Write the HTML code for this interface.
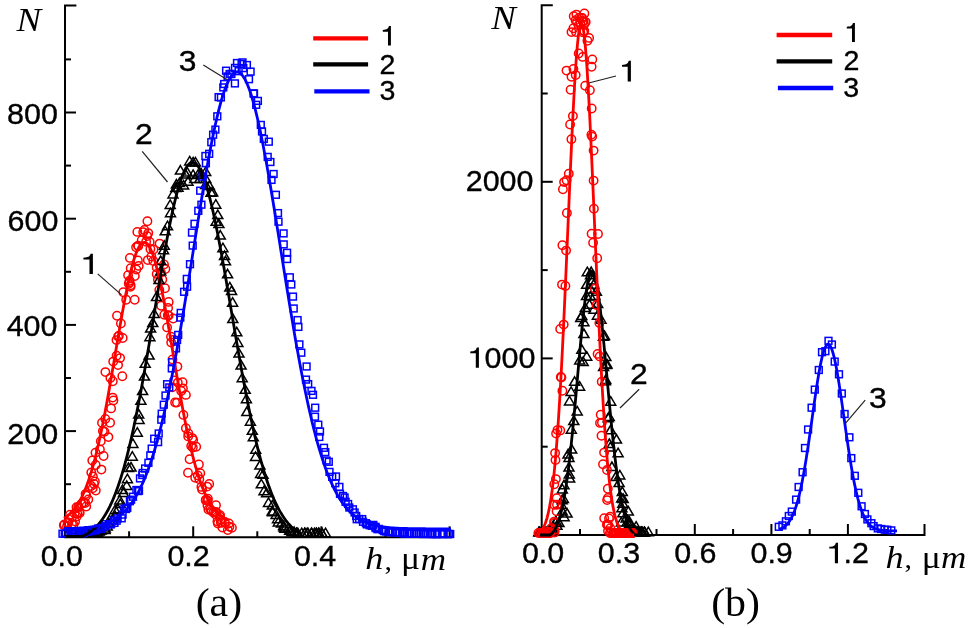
<!DOCTYPE html>
<html><head><meta charset="utf-8"><style>
html,body{margin:0;padding:0;background:#fff;}
svg{display:block;filter:blur(0.45px);}
</style></head><body>
<svg width="968" height="628" viewBox="0 0 968 628">
<g fill="none" stroke="#000" stroke-width="2"><path d="M76.4 5.5H65V537.3H452" /><path d="M65 484.2h6"/><path d="M65 431.1h11"/><path d="M65 378.0h6"/><path d="M65 324.9h11"/><path d="M65 271.8h6"/><path d="M65 218.7h11"/><path d="M65 165.6h6"/><path d="M65 112.5h11"/><path d="M65 59.4h6"/><path d="M129.1 537.3v-6"/><path d="M193.2 537.3v-11"/><path d="M257.3 537.3v-6"/><path d="M321.4 537.3v-11"/><path d="M385.5 537.3v-6"/><path d="M449.6 537.3v-11"/><path d="M552.8 5.3H541.7V535H924.5v-11"/><path d="M541.7 446.7h6"/><path d="M541.7 358.4h11"/><path d="M541.7 270.1h6"/><path d="M541.7 181.8h11"/><path d="M541.7 93.5h6"/><path d="M580.0 535v-6"/><path d="M618.3 535v-11"/><path d="M656.5 535v-6"/><path d="M694.8 535v-11"/><path d="M733.1 535v-6"/><path d="M771.4 535v-11"/><path d="M809.7 535v-6"/><path d="M847.9 535v-11"/><path d="M886.2 535v-6"/></g>
<g fill="none" stroke="#ff0000" stroke-width="1.5"><circle cx="67.0" cy="526.4" r="4.2"/><circle cx="63.8" cy="525.3" r="4.2"/><circle cx="64.4" cy="524.4" r="4.2"/><circle cx="73.5" cy="524.7" r="4.2"/><circle cx="67.6" cy="522.9" r="4.2"/><circle cx="72.0" cy="524.1" r="4.2"/><circle cx="68.4" cy="522.5" r="4.2"/><circle cx="75.1" cy="521.4" r="4.2"/><circle cx="72.0" cy="517.3" r="4.2"/><circle cx="70.0" cy="514.8" r="4.2"/><circle cx="74.7" cy="513.6" r="4.2"/><circle cx="77.4" cy="513.8" r="4.2"/><circle cx="76.7" cy="516.4" r="4.2"/><circle cx="76.5" cy="507.3" r="4.2"/><circle cx="79.7" cy="513.1" r="4.2"/><circle cx="78.6" cy="506.9" r="4.2"/><circle cx="78.4" cy="506.9" r="4.2"/><circle cx="79.3" cy="512.0" r="4.2"/><circle cx="86.2" cy="506.5" r="4.2"/><circle cx="83.7" cy="502.6" r="4.2"/><circle cx="85.2" cy="503.1" r="4.2"/><circle cx="86.2" cy="495.7" r="4.2"/><circle cx="81.5" cy="503.8" r="4.2"/><circle cx="88.3" cy="499.4" r="4.2"/><circle cx="95.8" cy="490.5" r="4.2"/><circle cx="85.6" cy="494.1" r="4.2"/><circle cx="92.7" cy="488.2" r="4.2"/><circle cx="94.0" cy="484.0" r="4.2"/><circle cx="94.9" cy="481.5" r="4.2"/><circle cx="91.2" cy="486.0" r="4.2"/><circle cx="92.9" cy="476.4" r="4.2"/><circle cx="91.3" cy="472.5" r="4.2"/><circle cx="95.7" cy="465.0" r="4.2"/><circle cx="101.4" cy="469.6" r="4.2"/><circle cx="95.5" cy="452.7" r="4.2"/><circle cx="92.3" cy="460.4" r="4.2"/><circle cx="99.9" cy="449.4" r="4.2"/><circle cx="103.6" cy="456.0" r="4.2"/><circle cx="100.8" cy="441.3" r="4.2"/><circle cx="108.4" cy="437.1" r="4.2"/><circle cx="102.9" cy="431.1" r="4.2"/><circle cx="104.5" cy="431.7" r="4.2"/><circle cx="102.0" cy="422.8" r="4.2"/><circle cx="105.3" cy="419.0" r="4.2"/><circle cx="110.1" cy="422.8" r="4.2"/><circle cx="111.1" cy="408.4" r="4.2"/><circle cx="113.4" cy="400.4" r="4.2"/><circle cx="112.7" cy="397.6" r="4.2"/><circle cx="112.8" cy="381.3" r="4.2"/><circle cx="105.4" cy="372.1" r="4.2"/><circle cx="110.4" cy="378.0" r="4.2"/><circle cx="122.3" cy="376.3" r="4.2"/><circle cx="113.2" cy="361.6" r="4.2"/><circle cx="118.1" cy="365.1" r="4.2"/><circle cx="116.6" cy="355.7" r="4.2"/><circle cx="120.1" cy="358.1" r="4.2"/><circle cx="118.9" cy="335.7" r="4.2"/><circle cx="116.5" cy="340.1" r="4.2"/><circle cx="118.1" cy="336.6" r="4.2"/><circle cx="122.7" cy="338.0" r="4.2"/><circle cx="120.9" cy="323.5" r="4.2"/><circle cx="117.0" cy="315.8" r="4.2"/><circle cx="126.2" cy="299.8" r="4.2"/><circle cx="128.8" cy="283.7" r="4.2"/><circle cx="129.4" cy="282.3" r="4.2"/><circle cx="130.5" cy="286.7" r="4.2"/><circle cx="123.3" cy="292.2" r="4.2"/><circle cx="134.7" cy="299.7" r="4.2"/><circle cx="129.6" cy="280.7" r="4.2"/><circle cx="128.1" cy="275.2" r="4.2"/><circle cx="130.6" cy="285.2" r="4.2"/><circle cx="130.7" cy="268.2" r="4.2"/><circle cx="129.9" cy="257.9" r="4.2"/><circle cx="134.8" cy="276.0" r="4.2"/><circle cx="136.3" cy="269.5" r="4.2"/><circle cx="136.1" cy="247.3" r="4.2"/><circle cx="138.2" cy="246.1" r="4.2"/><circle cx="138.1" cy="245.8" r="4.2"/><circle cx="137.3" cy="231.9" r="4.2"/><circle cx="138.7" cy="265.9" r="4.2"/><circle cx="143.2" cy="232.3" r="4.2"/><circle cx="137.9" cy="260.4" r="4.2"/><circle cx="141.7" cy="240.3" r="4.2"/><circle cx="147.4" cy="221.3" r="4.2"/><circle cx="146.1" cy="241.7" r="4.2"/><circle cx="148.3" cy="233.1" r="4.2"/><circle cx="147.2" cy="236.1" r="4.2"/><circle cx="144.4" cy="230.0" r="4.2"/><circle cx="147.8" cy="260.1" r="4.2"/><circle cx="150.4" cy="249.0" r="4.2"/><circle cx="149.7" cy="242.0" r="4.2"/><circle cx="151.4" cy="256.5" r="4.2"/><circle cx="153.5" cy="249.5" r="4.2"/><circle cx="156.7" cy="267.5" r="4.2"/><circle cx="153.3" cy="261.0" r="4.2"/><circle cx="159.6" cy="243.6" r="4.2"/><circle cx="156.7" cy="273.9" r="4.2"/><circle cx="160.9" cy="272.5" r="4.2"/><circle cx="162.3" cy="279.5" r="4.2"/><circle cx="165.4" cy="269.0" r="4.2"/><circle cx="164.0" cy="264.4" r="4.2"/><circle cx="165.0" cy="288.2" r="4.2"/><circle cx="168.1" cy="307.9" r="4.2"/><circle cx="157.9" cy="279.6" r="4.2"/><circle cx="161.2" cy="305.7" r="4.2"/><circle cx="168.7" cy="301.9" r="4.2"/><circle cx="159.3" cy="290.0" r="4.2"/><circle cx="167.8" cy="315.2" r="4.2"/><circle cx="168.7" cy="315.4" r="4.2"/><circle cx="164.3" cy="314.8" r="4.2"/><circle cx="167.1" cy="327.4" r="4.2"/><circle cx="173.2" cy="318.5" r="4.2"/><circle cx="173.8" cy="339.8" r="4.2"/><circle cx="171.0" cy="336.7" r="4.2"/><circle cx="171.2" cy="342.5" r="4.2"/><circle cx="172.5" cy="359.4" r="4.2"/><circle cx="177.4" cy="366.6" r="4.2"/><circle cx="172.3" cy="387.2" r="4.2"/><circle cx="177.8" cy="382.6" r="4.2"/><circle cx="174.0" cy="380.4" r="4.2"/><circle cx="182.6" cy="382.3" r="4.2"/><circle cx="181.2" cy="391.0" r="4.2"/><circle cx="185.9" cy="394.9" r="4.2"/><circle cx="175.1" cy="402.5" r="4.2"/><circle cx="176.9" cy="402.6" r="4.2"/><circle cx="182.9" cy="388.4" r="4.2"/><circle cx="185.9" cy="428.3" r="4.2"/><circle cx="183.4" cy="414.9" r="4.2"/><circle cx="188.2" cy="436.4" r="4.2"/><circle cx="188.4" cy="433.5" r="4.2"/><circle cx="192.3" cy="438.1" r="4.2"/><circle cx="191.2" cy="446.1" r="4.2"/><circle cx="193.2" cy="440.1" r="4.2"/><circle cx="196.2" cy="446.8" r="4.2"/><circle cx="192.8" cy="447.5" r="4.2"/><circle cx="189.6" cy="459.3" r="4.2"/><circle cx="200.3" cy="473.2" r="4.2"/><circle cx="198.9" cy="464.4" r="4.2"/><circle cx="188.0" cy="472.7" r="4.2"/><circle cx="197.8" cy="475.4" r="4.2"/><circle cx="195.2" cy="477.8" r="4.2"/><circle cx="199.3" cy="479.3" r="4.2"/><circle cx="202.1" cy="489.5" r="4.2"/><circle cx="207.2" cy="486.6" r="4.2"/><circle cx="201.4" cy="486.9" r="4.2"/><circle cx="209.2" cy="484.0" r="4.2"/><circle cx="207.9" cy="498.7" r="4.2"/><circle cx="206.0" cy="499.8" r="4.2"/><circle cx="205.7" cy="500.2" r="4.2"/><circle cx="207.7" cy="500.7" r="4.2"/><circle cx="210.4" cy="509.2" r="4.2"/><circle cx="207.4" cy="505.3" r="4.2"/><circle cx="216.0" cy="505.2" r="4.2"/><circle cx="211.6" cy="510.8" r="4.2"/><circle cx="208.4" cy="509.6" r="4.2"/><circle cx="216.3" cy="512.1" r="4.2"/><circle cx="213.4" cy="512.6" r="4.2"/><circle cx="215.5" cy="514.5" r="4.2"/><circle cx="215.3" cy="512.0" r="4.2"/><circle cx="220.1" cy="515.3" r="4.2"/><circle cx="220.0" cy="516.7" r="4.2"/><circle cx="217.9" cy="523.5" r="4.2"/><circle cx="220.6" cy="519.3" r="4.2"/><circle cx="217.4" cy="521.6" r="4.2"/><circle cx="228.9" cy="523.5" r="4.2"/><circle cx="222.0" cy="522.7" r="4.2"/><circle cx="224.8" cy="521.9" r="4.2"/><circle cx="220.8" cy="522.3" r="4.2"/><circle cx="222.4" cy="527.6" r="4.2"/><circle cx="231.9" cy="527.7" r="4.2"/><circle cx="229.4" cy="526.8" r="4.2"/><circle cx="227.8" cy="530.0" r="4.2"/></g>
<g fill="none" stroke="#000000" stroke-width="1.5"><path d="M68.6 528.2l5 8.5h-10z"/><path d="M73.2 528.2l5 8.5h-10z"/><path d="M72.5 528.2l5 8.5h-10z"/><path d="M74.6 528.2l5 8.5h-10z"/><path d="M76.6 528.2l5 8.5h-10z"/><path d="M78.8 528.2l5 8.5h-10z"/><path d="M80.2 528.2l5 8.5h-10z"/><path d="M81.8 528.2l5 8.5h-10z"/><path d="M85.5 528.2l5 8.5h-10z"/><path d="M85.4 528.2l5 8.5h-10z"/><path d="M87.4 528.2l5 8.5h-10z"/><path d="M87.3 528.2l5 8.5h-10z"/><path d="M91.1 528.2l5 8.5h-10z"/><path d="M90.4 528.2l5 8.5h-10z"/><path d="M93.1 528.2l5 8.5h-10z"/><path d="M97.8 528.2l5 8.5h-10z"/><path d="M96.4 528.1l5 8.5h-10z"/><path d="M98.8 526.5l5 8.5h-10z"/><path d="M99.4 526.2l5 8.5h-10z"/><path d="M101.1 525.4l5 8.5h-10z"/><path d="M105.1 524.9l5 8.5h-10z"/><path d="M105.2 523.5l5 8.5h-10z"/><path d="M107.3 521.4l5 8.5h-10z"/><path d="M108.8 518.5l5 8.5h-10z"/><path d="M109.4 515.2l5 8.5h-10z"/><path d="M112.3 515.0l5 8.5h-10z"/><path d="M115.2 511.4l5 8.5h-10z"/><path d="M115.1 505.2l5 8.5h-10z"/><path d="M118.0 504.3l5 8.5h-10z"/><path d="M120.3 499.1l5 8.5h-10z"/><path d="M119.8 495.4l5 8.5h-10z"/><path d="M123.5 488.1l5 8.5h-10z"/><path d="M122.5 485.1l5 8.5h-10z"/><path d="M126.7 480.9l5 8.5h-10z"/><path d="M127.4 474.2l5 8.5h-10z"/><path d="M128.4 463.0l5 8.5h-10z"/><path d="M131.0 462.5l5 8.5h-10z"/><path d="M132.3 451.7l5 8.5h-10z"/><path d="M132.9 438.9l5 8.5h-10z"/><path d="M137.3 427.7l5 8.5h-10z"/><path d="M139.1 414.9l5 8.5h-10z"/><path d="M138.7 409.5l5 8.5h-10z"/><path d="M140.9 395.7l5 8.5h-10z"/><path d="M142.6 386.0l5 8.5h-10z"/><path d="M144.5 371.5l5 8.5h-10z"/><path d="M145.2 358.8l5 8.5h-10z"/><path d="M149.1 350.5l5 8.5h-10z"/><path d="M149.9 332.2l5 8.5h-10z"/><path d="M150.6 323.6l5 8.5h-10z"/><path d="M152.8 318.0l5 8.5h-10z"/><path d="M154.2 308.9l5 8.5h-10z"/><path d="M156.5 292.0l5 8.5h-10z"/><path d="M159.0 275.0l5 8.5h-10z"/><path d="M160.7 266.5l5 8.5h-10z"/><path d="M160.7 256.1l5 8.5h-10z"/><path d="M163.6 245.3l5 8.5h-10z"/><path d="M164.3 240.8l5 8.5h-10z"/><path d="M165.2 226.3l5 8.5h-10z"/><path d="M167.5 221.2l5 8.5h-10z"/><path d="M170.2 199.9l5 8.5h-10z"/><path d="M170.5 208.2l5 8.5h-10z"/><path d="M173.0 189.4l5 8.5h-10z"/><path d="M175.8 183.1l5 8.5h-10z"/><path d="M176.4 179.6l5 8.5h-10z"/><path d="M178.0 182.8l5 8.5h-10z"/><path d="M179.5 178.1l5 8.5h-10z"/><path d="M180.4 165.6l5 8.5h-10z"/><path d="M183.6 180.6l5 8.5h-10z"/><path d="M185.6 169.5l5 8.5h-10z"/><path d="M187.3 167.6l5 8.5h-10z"/><path d="M188.0 176.8l5 8.5h-10z"/><path d="M189.7 156.4l5 8.5h-10z"/><path d="M193.1 157.5l5 8.5h-10z"/><path d="M193.1 169.9l5 8.5h-10z"/><path d="M195.4 157.4l5 8.5h-10z"/><path d="M194.7 173.9l5 8.5h-10z"/><path d="M198.1 169.8l5 8.5h-10z"/><path d="M199.8 174.1l5 8.5h-10z"/><path d="M201.1 168.4l5 8.5h-10z"/><path d="M205.7 166.9l5 8.5h-10z"/><path d="M205.6 180.1l5 8.5h-10z"/><path d="M205.8 174.1l5 8.5h-10z"/><path d="M209.4 181.1l5 8.5h-10z"/><path d="M211.0 187.7l5 8.5h-10z"/><path d="M212.7 187.5l5 8.5h-10z"/><path d="M215.8 199.7l5 8.5h-10z"/><path d="M216.1 216.8l5 8.5h-10z"/><path d="M217.8 210.1l5 8.5h-10z"/><path d="M218.9 219.1l5 8.5h-10z"/><path d="M220.3 230.6l5 8.5h-10z"/><path d="M222.9 243.2l5 8.5h-10z"/><path d="M224.5 251.0l5 8.5h-10z"/><path d="M225.5 256.3l5 8.5h-10z"/><path d="M227.6 269.3l5 8.5h-10z"/><path d="M229.8 282.4l5 8.5h-10z"/><path d="M231.6 286.1l5 8.5h-10z"/><path d="M232.6 297.7l5 8.5h-10z"/><path d="M232.8 314.0l5 8.5h-10z"/><path d="M236.8 327.3l5 8.5h-10z"/><path d="M237.9 337.9l5 8.5h-10z"/><path d="M239.0 348.6l5 8.5h-10z"/><path d="M241.1 360.5l5 8.5h-10z"/><path d="M242.2 373.2l5 8.5h-10z"/><path d="M245.2 384.8l5 8.5h-10z"/><path d="M246.4 394.2l5 8.5h-10z"/><path d="M246.8 407.0l5 8.5h-10z"/><path d="M250.4 416.7l5 8.5h-10z"/><path d="M252.3 425.8l5 8.5h-10z"/><path d="M253.3 432.3l5 8.5h-10z"/><path d="M255.7 444.8l5 8.5h-10z"/><path d="M255.5 451.9l5 8.5h-10z"/><path d="M259.9 460.5l5 8.5h-10z"/><path d="M260.6 468.9l5 8.5h-10z"/><path d="M263.0 469.7l5 8.5h-10z"/><path d="M261.3 479.3l5 8.5h-10z"/><path d="M264.0 486.2l5 8.5h-10z"/><path d="M266.6 488.3l5 8.5h-10z"/><path d="M268.5 497.9l5 8.5h-10z"/><path d="M272.3 500.5l5 8.5h-10z"/><path d="M272.2 506.5l5 8.5h-10z"/><path d="M272.7 507.3l5 8.5h-10z"/><path d="M276.1 509.9l5 8.5h-10z"/><path d="M277.5 514.2l5 8.5h-10z"/><path d="M278.3 517.4l5 8.5h-10z"/><path d="M281.5 518.4l5 8.5h-10z"/><path d="M283.6 520.9l5 8.5h-10z"/><path d="M283.9 522.4l5 8.5h-10z"/><path d="M284.9 523.8l5 8.5h-10z"/><path d="M288.2 523.5l5 8.5h-10z"/><path d="M289.6 525.8l5 8.5h-10z"/><path d="M290.6 525.7l5 8.5h-10z"/><path d="M291.8 527.2l5 8.5h-10z"/><path d="M294.1 527.0l5 8.5h-10z"/><path d="M296.5 528.2l5 8.5h-10z"/><path d="M297.8 528.2l5 8.5h-10z"/><path d="M296.7 528.2l5 8.5h-10z"/><path d="M301.7 528.2l5 8.5h-10z"/><path d="M304.6 528.2l5 8.5h-10z"/><path d="M304.9 528.2l5 8.5h-10z"/><path d="M307.1 528.2l5 8.5h-10z"/><path d="M308.0 528.2l5 8.5h-10z"/><path d="M311.7 528.2l5 8.5h-10z"/><path d="M311.4 528.2l5 8.5h-10z"/><path d="M314.4 528.2l5 8.5h-10z"/><path d="M316.3 528.2l5 8.5h-10z"/><path d="M316.3 528.2l5 8.5h-10z"/><path d="M319.0 528.2l5 8.5h-10z"/><path d="M318.4 528.2l5 8.5h-10z"/><path d="M321.9 528.2l5 8.5h-10z"/><path d="M321.8 528.2l5 8.5h-10z"/><path d="M325.5 528.2l5 8.5h-10z"/></g>
<g fill="none" stroke="#0000ff" stroke-width="1.5"><rect x="59.1" y="530.3" width="6.8" height="6.8"/><rect x="61.3" y="530.4" width="6.8" height="6.8"/><rect x="62.5" y="530.3" width="6.8" height="6.8"/><rect x="65.5" y="529.8" width="6.8" height="6.8"/><rect x="67.9" y="529.7" width="6.8" height="6.8"/><rect x="68.2" y="529.9" width="6.8" height="6.8"/><rect x="70.6" y="529.7" width="6.8" height="6.8"/><rect x="72.3" y="529.8" width="6.8" height="6.8"/><rect x="76.0" y="529.2" width="6.8" height="6.8"/><rect x="78.7" y="530.0" width="6.8" height="6.8"/><rect x="78.8" y="529.0" width="6.8" height="6.8"/><rect x="80.4" y="529.4" width="6.8" height="6.8"/><rect x="82.5" y="528.0" width="6.8" height="6.8"/><rect x="83.5" y="528.4" width="6.8" height="6.8"/><rect x="84.8" y="527.0" width="6.8" height="6.8"/><rect x="87.3" y="527.8" width="6.8" height="6.8"/><rect x="90.2" y="526.9" width="6.8" height="6.8"/><rect x="91.6" y="526.9" width="6.8" height="6.8"/><rect x="92.9" y="526.3" width="6.8" height="6.8"/><rect x="94.7" y="525.1" width="6.8" height="6.8"/><rect x="97.6" y="525.5" width="6.8" height="6.8"/><rect x="99.1" y="523.4" width="6.8" height="6.8"/><rect x="102.1" y="522.9" width="6.8" height="6.8"/><rect x="102.3" y="520.8" width="6.8" height="6.8"/><rect x="107.7" y="520.8" width="6.8" height="6.8"/><rect x="107.0" y="520.9" width="6.8" height="6.8"/><rect x="111.1" y="519.5" width="6.8" height="6.8"/><rect x="110.5" y="517.1" width="6.8" height="6.8"/><rect x="113.3" y="517.3" width="6.8" height="6.8"/><rect x="114.2" y="515.0" width="6.8" height="6.8"/><rect x="118.3" y="514.9" width="6.8" height="6.8"/><rect x="119.2" y="511.2" width="6.8" height="6.8"/><rect x="121.0" y="505.4" width="6.8" height="6.8"/><rect x="122.7" y="505.6" width="6.8" height="6.8"/><rect x="123.9" y="504.4" width="6.8" height="6.8"/><rect x="126.5" y="497.8" width="6.8" height="6.8"/><rect x="127.7" y="496.3" width="6.8" height="6.8"/><rect x="129.6" y="493.3" width="6.8" height="6.8"/><rect x="133.0" y="486.6" width="6.8" height="6.8"/><rect x="134.8" y="487.7" width="6.8" height="6.8"/><rect x="135.6" y="487.3" width="6.8" height="6.8"/><rect x="136.6" y="475.0" width="6.8" height="6.8"/><rect x="138.9" y="471.6" width="6.8" height="6.8"/><rect x="139.3" y="469.6" width="6.8" height="6.8"/><rect x="141.7" y="465.1" width="6.8" height="6.8"/><rect x="145.0" y="459.4" width="6.8" height="6.8"/><rect x="146.9" y="452.0" width="6.8" height="6.8"/><rect x="148.3" y="445.2" width="6.8" height="6.8"/><rect x="150.8" y="435.3" width="6.8" height="6.8"/><rect x="154.7" y="438.7" width="6.8" height="6.8"/><rect x="155.3" y="430.1" width="6.8" height="6.8"/><rect x="157.9" y="416.3" width="6.8" height="6.8"/><rect x="158.3" y="410.3" width="6.8" height="6.8"/><rect x="160.4" y="401.3" width="6.8" height="6.8"/><rect x="162.1" y="392.1" width="6.8" height="6.8"/><rect x="163.7" y="380.8" width="6.8" height="6.8"/><rect x="165.9" y="384.0" width="6.8" height="6.8"/><rect x="168.4" y="365.0" width="6.8" height="6.8"/><rect x="168.7" y="358.8" width="6.8" height="6.8"/><rect x="172.6" y="345.0" width="6.8" height="6.8"/><rect x="173.7" y="336.6" width="6.8" height="6.8"/><rect x="174.8" y="331.5" width="6.8" height="6.8"/><rect x="176.9" y="314.2" width="6.8" height="6.8"/><rect x="177.3" y="309.5" width="6.8" height="6.8"/><rect x="180.7" y="288.4" width="6.8" height="6.8"/><rect x="183.7" y="283.3" width="6.8" height="6.8"/><rect x="183.4" y="275.5" width="6.8" height="6.8"/><rect x="186.6" y="260.8" width="6.8" height="6.8"/><rect x="189.3" y="242.2" width="6.8" height="6.8"/><rect x="188.6" y="229.2" width="6.8" height="6.8"/><rect x="191.1" y="220.4" width="6.8" height="6.8"/><rect x="194.9" y="207.4" width="6.8" height="6.8"/><rect x="198.0" y="201.3" width="6.8" height="6.8"/><rect x="196.8" y="187.3" width="6.8" height="6.8"/><rect x="199.3" y="173.2" width="6.8" height="6.8"/><rect x="202.5" y="159.8" width="6.8" height="6.8"/><rect x="202.0" y="152.6" width="6.8" height="6.8"/><rect x="205.8" y="150.4" width="6.8" height="6.8"/><rect x="207.9" y="138.8" width="6.8" height="6.8"/><rect x="209.7" y="131.3" width="6.8" height="6.8"/><rect x="212.0" y="126.2" width="6.8" height="6.8"/><rect x="213.9" y="112.9" width="6.8" height="6.8"/><rect x="215.2" y="93.7" width="6.8" height="6.8"/><rect x="217.5" y="94.0" width="6.8" height="6.8"/><rect x="220.8" y="80.6" width="6.8" height="6.8"/><rect x="219.9" y="84.0" width="6.8" height="6.8"/><rect x="222.7" y="67.3" width="6.8" height="6.8"/><rect x="224.2" y="73.1" width="6.8" height="6.8"/><rect x="226.2" y="70.6" width="6.8" height="6.8"/><rect x="228.0" y="70.6" width="6.8" height="6.8"/><rect x="231.6" y="64.5" width="6.8" height="6.8"/><rect x="231.5" y="80.0" width="6.8" height="6.8"/><rect x="233.6" y="59.6" width="6.8" height="6.8"/><rect x="235.2" y="67.8" width="6.8" height="6.8"/><rect x="238.2" y="60.5" width="6.8" height="6.8"/><rect x="239.1" y="59.0" width="6.8" height="6.8"/><rect x="239.9" y="64.7" width="6.8" height="6.8"/><rect x="243.5" y="61.6" width="6.8" height="6.8"/><rect x="245.6" y="75.8" width="6.8" height="6.8"/><rect x="247.2" y="68.2" width="6.8" height="6.8"/><rect x="250.2" y="89.9" width="6.8" height="6.8"/><rect x="250.6" y="90.3" width="6.8" height="6.8"/><rect x="252.8" y="101.4" width="6.8" height="6.8"/><rect x="254.5" y="97.5" width="6.8" height="6.8"/><rect x="257.4" y="121.5" width="6.8" height="6.8"/><rect x="258.6" y="128.0" width="6.8" height="6.8"/><rect x="260.4" y="135.5" width="6.8" height="6.8"/><rect x="265.4" y="138.3" width="6.8" height="6.8"/><rect x="264.3" y="153.5" width="6.8" height="6.8"/><rect x="267.0" y="158.6" width="6.8" height="6.8"/><rect x="268.1" y="176.5" width="6.8" height="6.8"/><rect x="270.2" y="170.6" width="6.8" height="6.8"/><rect x="272.5" y="191.4" width="6.8" height="6.8"/><rect x="274.6" y="209.7" width="6.8" height="6.8"/><rect x="275.1" y="218.3" width="6.8" height="6.8"/><rect x="280.2" y="230.0" width="6.8" height="6.8"/><rect x="280.3" y="241.0" width="6.8" height="6.8"/><rect x="283.7" y="249.4" width="6.8" height="6.8"/><rect x="283.7" y="255.6" width="6.8" height="6.8"/><rect x="286.4" y="273.9" width="6.8" height="6.8"/><rect x="287.9" y="281.1" width="6.8" height="6.8"/><rect x="289.6" y="293.2" width="6.8" height="6.8"/><rect x="290.3" y="305.1" width="6.8" height="6.8"/><rect x="294.2" y="316.7" width="6.8" height="6.8"/><rect x="295.0" y="323.5" width="6.8" height="6.8"/><rect x="296.0" y="341.0" width="6.8" height="6.8"/><rect x="297.9" y="349.3" width="6.8" height="6.8"/><rect x="303.2" y="363.1" width="6.8" height="6.8"/><rect x="302.6" y="376.2" width="6.8" height="6.8"/><rect x="304.8" y="380.7" width="6.8" height="6.8"/><rect x="308.1" y="387.5" width="6.8" height="6.8"/><rect x="309.6" y="391.4" width="6.8" height="6.8"/><rect x="311.8" y="404.3" width="6.8" height="6.8"/><rect x="311.6" y="413.3" width="6.8" height="6.8"/><rect x="314.9" y="421.3" width="6.8" height="6.8"/><rect x="316.6" y="428.1" width="6.8" height="6.8"/><rect x="315.9" y="433.6" width="6.8" height="6.8"/><rect x="320.6" y="444.4" width="6.8" height="6.8"/><rect x="321.9" y="448.7" width="6.8" height="6.8"/><rect x="323.2" y="457.1" width="6.8" height="6.8"/><rect x="325.4" y="458.4" width="6.8" height="6.8"/><rect x="326.1" y="468.5" width="6.8" height="6.8"/><rect x="328.8" y="473.5" width="6.8" height="6.8"/><rect x="332.6" y="473.1" width="6.8" height="6.8"/><rect x="331.9" y="479.8" width="6.8" height="6.8"/><rect x="336.0" y="483.5" width="6.8" height="6.8"/><rect x="336.6" y="490.5" width="6.8" height="6.8"/><rect x="339.6" y="492.6" width="6.8" height="6.8"/><rect x="341.2" y="494.1" width="6.8" height="6.8"/><rect x="342.2" y="498.4" width="6.8" height="6.8"/><rect x="344.7" y="500.6" width="6.8" height="6.8"/><rect x="345.9" y="504.1" width="6.8" height="6.8"/><rect x="349.5" y="505.9" width="6.8" height="6.8"/><rect x="351.2" y="509.1" width="6.8" height="6.8"/><rect x="352.8" y="512.6" width="6.8" height="6.8"/><rect x="353.3" y="515.8" width="6.8" height="6.8"/><rect x="355.7" y="515.6" width="6.8" height="6.8"/><rect x="359.6" y="518.4" width="6.8" height="6.8"/><rect x="358.8" y="515.7" width="6.8" height="6.8"/><rect x="362.5" y="519.8" width="6.8" height="6.8"/><rect x="363.5" y="521.0" width="6.8" height="6.8"/><rect x="366.2" y="521.8" width="6.8" height="6.8"/><rect x="368.4" y="522.4" width="6.8" height="6.8"/><rect x="369.9" y="521.5" width="6.8" height="6.8"/><rect x="372.2" y="523.4" width="6.8" height="6.8"/><rect x="372.2" y="524.7" width="6.8" height="6.8"/><rect x="374.1" y="525.8" width="6.8" height="6.8"/><rect x="375.3" y="525.5" width="6.8" height="6.8"/><rect x="379.3" y="526.6" width="6.8" height="6.8"/><rect x="380.6" y="527.7" width="6.8" height="6.8"/><rect x="382.6" y="528.1" width="6.8" height="6.8"/><rect x="385.1" y="527.9" width="6.8" height="6.8"/><rect x="386.1" y="528.7" width="6.8" height="6.8"/><rect x="388.1" y="528.4" width="6.8" height="6.8"/><rect x="389.3" y="528.8" width="6.8" height="6.8"/><rect x="391.7" y="529.4" width="6.8" height="6.8"/><rect x="393.2" y="529.4" width="6.8" height="6.8"/><rect x="396.3" y="529.5" width="6.8" height="6.8"/><rect x="399.8" y="529.4" width="6.8" height="6.8"/><rect x="401.5" y="529.8" width="6.8" height="6.8"/><rect x="400.9" y="530.1" width="6.8" height="6.8"/><rect x="403.9" y="529.8" width="6.8" height="6.8"/><rect x="405.4" y="530.0" width="6.8" height="6.8"/><rect x="405.5" y="530.0" width="6.8" height="6.8"/><rect x="407.0" y="530.1" width="6.8" height="6.8"/><rect x="410.4" y="530.3" width="6.8" height="6.8"/><rect x="412.8" y="530.2" width="6.8" height="6.8"/><rect x="413.5" y="530.4" width="6.8" height="6.8"/><rect x="415.7" y="530.1" width="6.8" height="6.8"/><rect x="417.7" y="530.1" width="6.8" height="6.8"/><rect x="419.5" y="530.6" width="6.8" height="6.8"/><rect x="421.1" y="530.5" width="6.8" height="6.8"/><rect x="424.1" y="530.5" width="6.8" height="6.8"/><rect x="426.9" y="530.5" width="6.8" height="6.8"/><rect x="428.4" y="530.7" width="6.8" height="6.8"/><rect x="429.1" y="530.5" width="6.8" height="6.8"/><rect x="431.8" y="530.6" width="6.8" height="6.8"/><rect x="433.9" y="530.6" width="6.8" height="6.8"/><rect x="433.8" y="530.7" width="6.8" height="6.8"/><rect x="438.6" y="530.5" width="6.8" height="6.8"/><rect x="438.8" y="530.6" width="6.8" height="6.8"/><rect x="440.1" y="530.6" width="6.8" height="6.8"/><rect x="445.8" y="530.6" width="6.8" height="6.8"/><rect x="444.2" y="530.6" width="6.8" height="6.8"/><rect x="446.8" y="530.6" width="6.8" height="6.8"/></g>
<path d="M64.0 518.2 L65.0 517.6 L66.0 516.9 L67.0 516.2 L68.0 515.5 L69.0 514.7 L70.0 513.8 L71.0 512.9 L72.0 511.8 L73.0 510.7 L74.0 509.6 L75.0 508.3 L76.0 506.9 L77.0 505.5 L78.0 503.9 L79.0 502.3 L80.0 500.5 L81.0 498.6 L82.0 496.7 L83.0 494.5 L84.0 492.3 L85.0 489.9 L86.0 487.4 L87.0 484.8 L88.0 482.0 L89.0 479.1 L90.0 476.1 L91.0 472.9 L92.0 469.5 L93.0 466.0 L94.0 462.3 L95.0 458.5 L96.0 454.6 L97.0 450.5 L98.0 446.2 L99.0 441.8 L100.0 437.2 L101.0 432.5 L102.0 427.7 L103.0 422.7 L104.0 417.7 L105.0 412.4 L106.0 407.1 L107.0 401.7 L108.0 396.1 L109.0 390.5 L110.0 384.8 L111.0 379.0 L112.0 373.2 L113.0 367.3 L114.0 361.4 L115.0 355.5 L116.0 349.6 L117.0 343.7 L118.0 337.8 L119.0 331.9 L120.0 326.1 L121.0 320.4 L122.0 314.7 L123.0 309.2 L124.0 303.7 L125.0 298.4 L126.0 293.3 L127.0 288.3 L128.0 283.5 L129.0 278.9 L130.0 274.5 L131.0 270.4 L132.0 266.5 L133.0 262.8 L134.0 259.4 L135.0 256.3 L136.0 253.5 L137.0 251.0 L138.0 248.8 L139.0 246.9 L140.0 245.3 L141.0 244.0 L142.0 243.1 L143.0 242.5 L144.0 242.3 L145.0 242.4 L146.0 242.8 L147.0 243.6 L148.0 244.7 L149.0 246.2 L150.0 248.0 L151.0 250.0 L152.0 252.4 L153.0 255.1 L154.0 258.1 L155.0 261.4 L156.0 265.0 L157.0 268.8 L158.0 272.9 L159.0 277.1 L160.0 281.7 L161.0 286.4 L162.0 291.3 L163.0 296.4 L164.0 301.6 L165.0 307.0 L166.0 312.5 L167.0 318.1 L168.0 323.8 L169.0 329.6 L170.0 335.4 L171.0 341.3 L172.0 347.2 L173.0 353.1 L174.0 359.1 L175.0 365.0 L176.0 370.9 L177.0 376.7 L178.0 382.5 L179.0 388.3 L180.0 393.9 L181.0 399.5 L182.0 405.0 L183.0 410.3 L184.0 415.6 L185.0 420.7 L186.0 425.7 L187.0 430.6 L188.0 435.4 L189.0 440.0 L190.0 444.5 L191.0 448.8 L192.0 452.9 L193.0 457.0 L194.0 460.8 L195.0 464.5 L196.0 468.1 L197.0 471.5 L198.0 474.8 L199.0 477.9 L200.0 480.9 L201.0 483.7 L202.0 486.4 L203.0 489.0 L204.0 491.4 L205.0 493.7 L206.0 495.8 L207.0 497.9 L208.0 499.8 L209.0 501.6 L210.0 503.3 L211.0 504.9 L212.0 506.4 L213.0 507.8 L214.0 509.1 L215.0 510.3 L216.0 511.4 L217.0 512.5 L218.0 513.4 L219.0 514.3 L220.0 515.2 L221.0 516.0 L222.0 516.7 L223.0 517.3 L224.0 517.9 L225.0 518.5 L226.0 519.0 L227.0 519.5 L228.0 519.9 L229.0 520.3" fill="none" stroke="#ff0000" stroke-width="2.8"/>
<path d="M65.0 536.5 L66.0 536.5 L67.0 536.5 L68.0 536.5 L69.0 536.5 L70.0 536.5 L71.0 536.5 L72.0 536.5 L73.0 536.5 L74.0 536.5 L75.0 536.5 L76.0 536.5 L77.0 536.5 L78.0 536.5 L79.0 536.5 L80.0 536.5 L81.0 536.5 L82.0 536.5 L83.0 536.0 L84.0 535.6 L85.0 535.1 L86.0 534.5 L87.0 534.0 L88.0 533.3 L89.0 532.7 L90.0 532.0 L91.0 531.3 L92.0 530.5 L93.0 529.7 L94.0 528.8 L95.0 527.9 L96.0 526.9 L97.0 525.9 L98.0 524.8 L99.0 523.6 L100.0 522.4 L101.0 521.1 L102.0 519.7 L103.0 518.3 L104.0 516.8 L105.0 515.2 L106.0 513.6 L107.0 511.8 L108.0 510.0 L109.0 508.1 L110.0 506.1 L111.0 503.9 L112.0 501.8 L113.0 499.5 L114.0 497.1 L115.0 494.6 L116.0 492.0 L117.0 489.3 L118.0 486.5 L119.0 483.5 L120.0 480.5 L121.0 477.4 L122.0 474.1 L123.0 470.7 L124.0 467.3 L125.0 463.6 L126.0 459.9 L127.0 456.1 L128.0 452.1 L129.0 448.1 L130.0 443.9 L131.0 439.6 L132.0 435.1 L133.0 430.6 L134.0 426.0 L135.0 421.2 L136.0 416.3 L137.0 411.4 L138.0 406.3 L139.0 401.1 L140.0 395.9 L141.0 390.5 L142.0 385.1 L143.0 379.5 L144.0 373.9 L145.0 368.3 L146.0 362.5 L147.0 356.7 L148.0 350.8 L149.0 344.9 L150.0 339.0 L151.0 333.0 L152.0 326.9 L153.0 320.9 L154.0 314.9 L155.0 308.8 L156.0 302.7 L157.0 296.7 L158.0 290.7 L159.0 284.7 L160.0 278.7 L161.0 272.8 L162.0 267.0 L163.0 261.2 L164.0 255.5 L165.0 249.9 L166.0 244.4 L167.0 239.0 L168.0 233.7 L169.0 228.6 L170.0 223.5 L171.0 218.6 L172.0 213.9 L173.0 209.3 L174.0 204.9 L175.0 200.7 L176.0 196.6 L177.0 192.8 L178.0 189.1 L179.0 185.7 L180.0 182.5 L181.0 179.5 L182.0 176.7 L183.0 174.2 L184.0 171.9 L185.0 169.8 L186.0 168.0 L187.0 166.5 L188.0 165.2 L189.0 164.1 L190.0 163.3 L191.0 162.8 L192.0 162.5 L193.0 162.5 L194.0 162.8 L195.0 163.3 L196.0 164.0 L197.0 165.0 L198.0 166.3 L199.0 167.7 L200.0 169.5 L201.0 171.4 L202.0 173.6 L203.0 176.0 L204.0 178.6 L205.0 181.5 L206.0 184.6 L207.0 187.8 L208.0 191.3 L209.0 195.0 L210.0 198.8 L211.0 202.9 L212.0 207.1 L213.0 211.5 L214.0 216.0 L215.0 220.7 L216.0 225.5 L217.0 230.5 L218.0 235.5 L219.0 240.7 L220.0 246.0 L221.0 251.4 L222.0 256.9 L223.0 262.5 L224.0 268.1 L225.0 273.8 L226.0 279.6 L227.0 285.4 L228.0 291.2 L229.0 297.1 L230.0 303.0 L231.0 308.9 L232.0 314.8 L233.0 320.7 L234.0 326.6 L235.0 332.4 L236.0 338.3 L237.0 344.1 L238.0 349.8 L239.0 355.6 L240.0 361.2 L241.0 366.9 L242.0 372.4 L243.0 377.9 L244.0 383.3 L245.0 388.6 L246.0 393.9 L247.0 399.1 L248.0 404.1 L249.0 409.1 L250.0 414.0 L251.0 418.8 L252.0 423.5 L253.0 428.1 L254.0 432.5 L255.0 436.9 L256.0 441.2 L257.0 445.3 L258.0 449.4 L259.0 453.3 L260.0 457.1 L261.0 460.8 L262.0 464.4 L263.0 467.9 L264.0 471.3 L265.0 474.6 L266.0 477.7 L267.0 480.8 L268.0 483.7 L269.0 486.6 L270.0 489.3 L271.0 491.9 L272.0 494.5 L273.0 496.9 L274.0 499.3 L275.0 501.5 L276.0 503.6 L277.0 505.7 L278.0 507.7 L279.0 509.6 L280.0 511.4 L281.0 513.1 L282.0 514.7 L283.0 516.3 L284.0 517.8 L285.0 519.2 L286.0 520.6 L287.0 521.9 L288.0 523.1 L289.0 524.2 L290.0 525.3 L291.0 526.4 L292.0 527.4 L293.0 528.3 L294.0 529.2 L295.0 530.0 L296.0 530.8 L297.0 531.5 L298.0 532.2 L299.0 532.9 L300.0 533.5" fill="none" stroke="#000000" stroke-width="2.8"/>
<path d="M64.0 528.6 L65.0 528.6 L66.0 528.6 L67.0 528.5 L68.0 528.5 L69.0 528.5 L70.0 528.5 L71.0 528.4 L72.0 528.4 L73.0 528.4 L74.0 528.3 L75.0 528.3 L76.0 528.2 L77.0 528.2 L78.0 528.1 L79.0 528.1 L80.0 528.0 L81.0 528.0 L82.0 527.9 L83.0 527.8 L84.0 527.7 L85.0 527.6 L86.0 527.5 L87.0 527.4 L88.0 527.3 L89.0 527.2 L90.0 527.1 L91.0 527.0 L92.0 526.8 L93.0 526.7 L94.0 526.5 L95.0 526.3 L96.0 526.1 L97.0 525.9 L98.0 525.7 L99.0 525.5 L100.0 525.2 L101.0 525.0 L102.0 524.7 L103.0 524.4 L104.0 524.1 L105.0 523.8 L106.0 523.4 L107.0 523.0 L108.0 522.6 L109.0 522.2 L110.0 521.8 L111.0 521.3 L112.0 520.8 L113.0 520.2 L114.0 519.7 L115.0 519.1 L116.0 518.5 L117.0 517.8 L118.0 517.1 L119.0 516.3 L120.0 515.6 L121.0 514.7 L122.0 513.9 L123.0 513.0 L124.0 512.0 L125.0 511.0 L126.0 510.0 L127.0 508.8 L128.0 507.7 L129.0 506.5 L130.0 505.2 L131.0 503.9 L132.0 502.5 L133.0 501.0 L134.0 499.5 L135.0 497.9 L136.0 496.2 L137.0 494.5 L138.0 492.7 L139.0 490.8 L140.0 488.8 L141.0 486.7 L142.0 484.6 L143.0 482.4 L144.0 480.1 L145.0 477.7 L146.0 475.2 L147.0 472.7 L148.0 470.0 L149.0 467.3 L150.0 464.4 L151.0 461.5 L152.0 458.4 L153.0 455.3 L154.0 452.1 L155.0 448.7 L156.0 445.3 L157.0 441.7 L158.0 438.0 L159.0 434.3 L160.0 430.4 L161.0 426.5 L162.0 422.4 L163.0 418.2 L164.0 413.9 L165.0 409.5 L166.0 405.0 L167.0 400.4 L168.0 395.7 L169.0 390.9 L170.0 386.0 L171.0 381.0 L172.0 375.9 L173.0 370.8 L174.0 365.5 L175.0 360.1 L176.0 354.7 L177.0 349.1 L178.0 343.5 L179.0 337.8 L180.0 332.0 L181.0 326.2 L182.0 320.3 L183.0 314.3 L184.0 308.3 L185.0 302.2 L186.0 296.1 L187.0 290.0 L188.0 283.8 L189.0 277.5 L190.0 271.3 L191.0 265.0 L192.0 258.7 L193.0 252.4 L194.0 246.1 L195.0 239.8 L196.0 233.6 L197.0 227.3 L198.0 221.1 L199.0 214.9 L200.0 208.7 L201.0 202.6 L202.0 196.6 L203.0 190.6 L204.0 184.7 L205.0 178.8 L206.0 173.0 L207.0 167.4 L208.0 161.8 L209.0 156.4 L210.0 151.0 L211.0 145.8 L212.0 140.7 L213.0 135.7 L214.0 130.9 L215.0 126.2 L216.0 121.7 L217.0 117.4 L218.0 113.2 L219.0 109.2 L220.0 105.3 L221.0 101.7 L222.0 98.2 L223.0 95.0 L224.0 91.9 L225.0 89.0 L226.0 86.4 L227.0 84.0 L228.0 81.8 L229.0 79.8 L230.0 78.0 L231.0 76.5 L232.0 75.2 L233.0 74.1 L234.0 73.2 L235.0 72.6 L236.0 72.2 L237.0 72.1 L238.0 72.2 L239.0 72.5 L240.0 73.1 L241.0 73.9 L242.0 74.9 L243.0 76.2 L244.0 77.7 L245.0 79.4 L246.0 81.3 L247.0 83.5 L248.0 85.9 L249.0 88.5 L250.0 91.3 L251.0 94.3 L252.0 97.5 L253.0 101.0 L254.0 104.6 L255.0 108.4 L256.0 112.3 L257.0 116.5 L258.0 120.8 L259.0 125.3 L260.0 129.9 L261.0 134.7 L262.0 139.7 L263.0 144.7 L264.0 149.9 L265.0 155.3 L266.0 160.7 L267.0 166.3 L268.0 171.9 L269.0 177.6 L270.0 183.5 L271.0 189.4 L272.0 195.4 L273.0 201.4 L274.0 207.5 L275.0 213.6 L276.0 219.8 L277.0 226.1 L278.0 232.3 L279.0 238.6 L280.0 244.9 L281.0 251.2 L282.0 257.5 L283.0 263.8 L284.0 270.0 L285.0 276.3 L286.0 282.5 L287.0 288.7 L288.0 294.9 L289.0 301.0 L290.0 307.1 L291.0 313.1 L292.0 319.1 L293.0 325.0 L294.0 330.9 L295.0 336.7 L296.0 342.4 L297.0 348.0 L298.0 353.6 L299.0 359.0 L300.0 364.4 L301.0 369.7 L302.0 374.9 L303.0 380.0 L304.0 385.0 L305.0 390.0 L306.0 394.8 L307.0 399.5 L308.0 404.1 L309.0 408.6 L310.0 413.0 L311.0 417.3 L312.0 421.6 L313.0 425.6 L314.0 429.6 L315.0 433.5 L316.0 437.3 L317.0 441.0 L318.0 444.6 L319.0 448.0 L320.0 451.4 L321.0 454.7 L322.0 457.8 L323.0 460.9 L324.0 463.8 L325.0 466.7 L326.0 469.5 L327.0 472.2 L328.0 474.7 L329.0 477.2 L330.0 479.6 L331.0 482.0 L332.0 484.2 L333.0 486.3 L334.0 488.4 L335.0 490.4 L336.0 492.3 L337.0 494.1 L338.0 495.9 L339.0 497.5 L340.0 499.2 L341.0 500.7 L342.0 502.2 L343.0 503.6 L344.0 504.9 L345.0 506.2 L346.0 507.4 L347.0 508.6 L348.0 509.7 L349.0 510.8 L350.0 511.8 L351.0 512.8 L352.0 513.7 L353.0 514.6 L354.0 515.4 L355.0 516.2 L356.0 516.9 L357.0 517.7 L358.0 518.3 L359.0 519.0 L360.0 519.6 L361.0 520.1 L362.0 520.7 L363.0 521.2 L364.0 521.7 L365.0 522.1 L366.0 522.5 L367.0 523.0 L368.0 523.3 L369.0 523.7 L370.0 524.0 L371.0 524.3 L372.0 524.6 L373.0 524.9 L374.0 525.2 L375.0 525.4 L376.0 525.7 L377.0 525.9 L378.0 526.1 L379.0 526.3 L380.0 526.5 L381.0 526.6 L382.0 526.8 L383.0 526.9 L384.0 527.1 L385.0 527.2 L386.0 527.3 L387.0 527.4 L388.0 527.5 L389.0 527.6 L390.0 527.7 L391.0 527.8 L392.0 527.9 L393.0 527.9 L394.0 528.0 L395.0 528.1 L396.0 528.1 L397.0 528.2 L398.0 528.2 L399.0 528.3 L400.0 528.3 L401.0 528.4 L402.0 528.4 L403.0 528.4 L404.0 528.5 L405.0 528.5 L406.0 528.5 L407.0 528.5 L408.0 528.6 L409.0 528.6 L410.0 528.6 L411.0 528.6 L412.0 528.6 L413.0 528.6 L414.0 528.7 L415.0 528.7 L416.0 528.7 L417.0 528.7 L418.0 528.7 L419.0 528.7 L420.0 528.7 L421.0 528.7 L422.0 528.7 L423.0 528.7 L424.0 528.7 L425.0 528.7 L426.0 528.8 L427.0 528.8 L428.0 528.8 L429.0 528.8 L430.0 528.8 L431.0 528.8 L432.0 528.8 L433.0 528.8 L434.0 528.8 L435.0 528.8 L436.0 528.8 L437.0 528.8 L438.0 528.8 L439.0 528.8 L440.0 528.8 L441.0 528.8 L442.0 528.8 L443.0 528.8 L444.0 528.8 L445.0 528.8 L446.0 528.8 L447.0 528.8 L448.0 528.8 L449.0 528.8 L450.0 528.8 L451.0 528.8" fill="none" stroke="#0000ff" stroke-width="2.8"/>
<g fill="none" stroke="#000000" stroke-width="1.5"><path d="M538.9 527.2l5 8.5h-10z"/><path d="M544.1 527.2l5 8.5h-10z"/><path d="M541.9 527.2l5 8.5h-10z"/><path d="M539.8 527.2l5 8.5h-10z"/><path d="M539.0 527.2l5 8.5h-10z"/><path d="M543.9 527.2l5 8.5h-10z"/><path d="M551.1 527.2l5 8.5h-10z"/><path d="M544.4 527.2l5 8.5h-10z"/><path d="M551.1 527.2l5 8.5h-10z"/><path d="M546.7 527.2l5 8.5h-10z"/><path d="M546.0 527.2l5 8.5h-10z"/><path d="M544.9 527.2l5 8.5h-10z"/><path d="M551.1 525.7l5 8.5h-10z"/><path d="M553.1 525.8l5 8.5h-10z"/><path d="M553.1 525.4l5 8.5h-10z"/><path d="M549.2 525.5l5 8.5h-10z"/><path d="M553.6 522.2l5 8.5h-10z"/><path d="M556.9 520.7l5 8.5h-10z"/><path d="M555.6 516.7l5 8.5h-10z"/><path d="M559.0 518.0l5 8.5h-10z"/><path d="M564.1 512.2l5 8.5h-10z"/><path d="M556.2 516.8l5 8.5h-10z"/><path d="M567.1 508.6l5 8.5h-10z"/><path d="M562.3 506.5l5 8.5h-10z"/><path d="M561.2 499.7l5 8.5h-10z"/><path d="M562.1 495.3l5 8.5h-10z"/><path d="M563.4 493.9l5 8.5h-10z"/><path d="M562.3 484.4l5 8.5h-10z"/><path d="M564.0 480.3l5 8.5h-10z"/><path d="M569.7 473.6l5 8.5h-10z"/><path d="M569.3 469.5l5 8.5h-10z"/><path d="M569.0 462.6l5 8.5h-10z"/><path d="M569.0 452.9l5 8.5h-10z"/><path d="M568.0 449.5l5 8.5h-10z"/><path d="M571.7 444.6l5 8.5h-10z"/><path d="M571.3 424.7l5 8.5h-10z"/><path d="M573.8 416.0l5 8.5h-10z"/><path d="M577.2 406.4l5 8.5h-10z"/><path d="M569.5 396.4l5 8.5h-10z"/><path d="M571.1 386.9l5 8.5h-10z"/><path d="M579.6 381.7l5 8.5h-10z"/><path d="M574.6 376.8l5 8.5h-10z"/><path d="M583.2 357.1l5 8.5h-10z"/><path d="M579.7 355.4l5 8.5h-10z"/><path d="M586.7 351.7l5 8.5h-10z"/><path d="M581.8 344.8l5 8.5h-10z"/><path d="M583.9 329.0l5 8.5h-10z"/><path d="M580.7 313.1l5 8.5h-10z"/><path d="M581.8 310.9l5 8.5h-10z"/><path d="M585.3 303.1l5 8.5h-10z"/><path d="M583.9 317.2l5 8.5h-10z"/><path d="M586.5 291.1l5 8.5h-10z"/><path d="M590.4 291.4l5 8.5h-10z"/><path d="M586.6 279.8l5 8.5h-10z"/><path d="M587.3 267.2l5 8.5h-10z"/><path d="M590.6 284.5l5 8.5h-10z"/><path d="M590.5 270.3l5 8.5h-10z"/><path d="M593.6 279.8l5 8.5h-10z"/><path d="M592.6 275.6l5 8.5h-10z"/><path d="M591.2 267.1l5 8.5h-10z"/><path d="M589.5 299.8l5 8.5h-10z"/><path d="M596.4 286.7l5 8.5h-10z"/><path d="M594.8 290.9l5 8.5h-10z"/><path d="M597.7 298.9l5 8.5h-10z"/><path d="M593.9 304.7l5 8.5h-10z"/><path d="M597.4 310.7l5 8.5h-10z"/><path d="M601.0 314.7l5 8.5h-10z"/><path d="M603.5 331.7l5 8.5h-10z"/><path d="M604.5 330.9l5 8.5h-10z"/><path d="M605.9 352.0l5 8.5h-10z"/><path d="M603.6 362.1l5 8.5h-10z"/><path d="M607.0 359.4l5 8.5h-10z"/><path d="M606.3 360.1l5 8.5h-10z"/><path d="M605.8 375.1l5 8.5h-10z"/><path d="M605.4 376.3l5 8.5h-10z"/><path d="M610.7 396.7l5 8.5h-10z"/><path d="M609.2 411.9l5 8.5h-10z"/><path d="M608.2 413.3l5 8.5h-10z"/><path d="M610.6 425.3l5 8.5h-10z"/><path d="M616.5 434.6l5 8.5h-10z"/><path d="M609.3 439.0l5 8.5h-10z"/><path d="M610.3 442.4l5 8.5h-10z"/><path d="M618.1 448.2l5 8.5h-10z"/><path d="M611.9 462.0l5 8.5h-10z"/><path d="M619.8 470.4l5 8.5h-10z"/><path d="M615.8 472.1l5 8.5h-10z"/><path d="M619.1 478.0l5 8.5h-10z"/><path d="M622.3 487.1l5 8.5h-10z"/><path d="M623.2 494.0l5 8.5h-10z"/><path d="M622.8 498.8l5 8.5h-10z"/><path d="M621.7 493.5l5 8.5h-10z"/><path d="M621.9 503.2l5 8.5h-10z"/><path d="M622.9 508.3l5 8.5h-10z"/><path d="M628.3 506.5l5 8.5h-10z"/><path d="M626.1 513.4l5 8.5h-10z"/><path d="M629.2 516.5l5 8.5h-10z"/><path d="M621.3 517.4l5 8.5h-10z"/><path d="M627.2 517.3l5 8.5h-10z"/><path d="M629.7 518.7l5 8.5h-10z"/><path d="M628.9 524.2l5 8.5h-10z"/><path d="M636.1 521.7l5 8.5h-10z"/><path d="M628.8 524.1l5 8.5h-10z"/><path d="M633.9 526.2l5 8.5h-10z"/><path d="M635.7 525.9l5 8.5h-10z"/><path d="M632.3 527.1l5 8.5h-10z"/><path d="M637.4 527.2l5 8.5h-10z"/><path d="M637.2 527.2l5 8.5h-10z"/><path d="M644.4 527.2l5 8.5h-10z"/><path d="M641.7 527.2l5 8.5h-10z"/><path d="M638.8 527.2l5 8.5h-10z"/><path d="M642.2 527.2l5 8.5h-10z"/><path d="M641.7 527.2l5 8.5h-10z"/><path d="M640.5 527.2l5 8.5h-10z"/><path d="M644.2 527.2l5 8.5h-10z"/><path d="M644.6 527.2l5 8.5h-10z"/><path d="M648.3 527.2l5 8.5h-10z"/><path d="M641.7 527.2l5 8.5h-10z"/></g>
<g fill="none" stroke="#ff0000" stroke-width="1.5"><circle cx="538.4" cy="533.0" r="4.2"/><circle cx="540.1" cy="533.0" r="4.2"/><circle cx="543.3" cy="533.0" r="4.2"/><circle cx="544.6" cy="533.0" r="4.2"/><circle cx="543.0" cy="533.0" r="4.2"/><circle cx="544.3" cy="533.0" r="4.2"/><circle cx="544.5" cy="533.0" r="4.2"/><circle cx="542.1" cy="533.0" r="4.2"/><circle cx="544.2" cy="533.0" r="4.2"/><circle cx="547.9" cy="533.0" r="4.2"/><circle cx="548.4" cy="533.0" r="4.2"/><circle cx="549.6" cy="533.0" r="4.2"/><circle cx="549.3" cy="533.0" r="4.2"/><circle cx="544.1" cy="533.0" r="4.2"/><circle cx="549.8" cy="532.6" r="4.2"/><circle cx="550.5" cy="533.0" r="4.2"/><circle cx="548.1" cy="531.8" r="4.2"/><circle cx="554.5" cy="532.6" r="4.2"/><circle cx="551.4" cy="528.1" r="4.2"/><circle cx="554.0" cy="521.7" r="4.2"/><circle cx="554.3" cy="530.1" r="4.2"/><circle cx="554.6" cy="523.0" r="4.2"/><circle cx="556.6" cy="511.3" r="4.2"/><circle cx="554.4" cy="504.8" r="4.2"/><circle cx="557.0" cy="504.7" r="4.2"/><circle cx="556.7" cy="498.3" r="4.2"/><circle cx="554.3" cy="484.2" r="4.2"/><circle cx="555.9" cy="479.1" r="4.2"/><circle cx="555.5" cy="460.1" r="4.2"/><circle cx="555.1" cy="453.1" r="4.2"/><circle cx="556.1" cy="433.5" r="4.2"/><circle cx="560.3" cy="430.4" r="4.2"/><circle cx="557.5" cy="430.1" r="4.2"/><circle cx="562.4" cy="390.8" r="4.2"/><circle cx="560.8" cy="377.0" r="4.2"/><circle cx="561.4" cy="377.4" r="4.2"/><circle cx="560.2" cy="328.9" r="4.2"/><circle cx="563.7" cy="324.6" r="4.2"/><circle cx="562.0" cy="284.6" r="4.2"/><circle cx="565.4" cy="285.9" r="4.2"/><circle cx="566.1" cy="250.6" r="4.2"/><circle cx="562.4" cy="245.2" r="4.2"/><circle cx="566.9" cy="213.0" r="4.2"/><circle cx="562.9" cy="189.2" r="4.2"/><circle cx="568.8" cy="173.7" r="4.2"/><circle cx="564.1" cy="182.1" r="4.2"/><circle cx="566.6" cy="180.3" r="4.2"/><circle cx="571.4" cy="139.3" r="4.2"/><circle cx="570.1" cy="124.5" r="4.2"/><circle cx="571.5" cy="76.7" r="4.2"/><circle cx="566.5" cy="70.6" r="4.2"/><circle cx="572.9" cy="116.1" r="4.2"/><circle cx="570.6" cy="89.7" r="4.2"/><circle cx="575.7" cy="75.1" r="4.2"/><circle cx="573.4" cy="69.0" r="4.2"/><circle cx="573.7" cy="16.3" r="4.2"/><circle cx="571.5" cy="32.1" r="4.2"/><circle cx="573.4" cy="28.2" r="4.2"/><circle cx="575.6" cy="20.3" r="4.2"/><circle cx="578.7" cy="53.4" r="4.2"/><circle cx="579.2" cy="17.8" r="4.2"/><circle cx="577.0" cy="22.0" r="4.2"/><circle cx="576.0" cy="32.1" r="4.2"/><circle cx="576.4" cy="14.6" r="4.2"/><circle cx="582.3" cy="18.0" r="4.2"/><circle cx="580.4" cy="22.9" r="4.2"/><circle cx="578.5" cy="25.3" r="4.2"/><circle cx="583.8" cy="31.0" r="4.2"/><circle cx="582.7" cy="56.9" r="4.2"/><circle cx="583.7" cy="21.1" r="4.2"/><circle cx="584.4" cy="13.5" r="4.2"/><circle cx="584.1" cy="24.8" r="4.2"/><circle cx="583.2" cy="32.4" r="4.2"/><circle cx="581.7" cy="18.1" r="4.2"/><circle cx="582.8" cy="21.3" r="4.2"/><circle cx="584.3" cy="30.9" r="4.2"/><circle cx="587.4" cy="40.7" r="4.2"/><circle cx="585.7" cy="22.1" r="4.2"/><circle cx="589.1" cy="37.9" r="4.2"/><circle cx="589.9" cy="90.2" r="4.2"/><circle cx="591.6" cy="66.7" r="4.2"/><circle cx="592.3" cy="59.4" r="4.2"/><circle cx="585.2" cy="85.7" r="4.2"/><circle cx="593.6" cy="150.6" r="4.2"/><circle cx="591.7" cy="108.5" r="4.2"/><circle cx="592.2" cy="136.6" r="4.2"/><circle cx="591.4" cy="134.8" r="4.2"/><circle cx="593.6" cy="180.6" r="4.2"/><circle cx="593.9" cy="208.8" r="4.2"/><circle cx="593.1" cy="242.8" r="4.2"/><circle cx="591.6" cy="233.7" r="4.2"/><circle cx="598.0" cy="234.0" r="4.2"/><circle cx="597.2" cy="258.2" r="4.2"/><circle cx="594.9" cy="288.7" r="4.2"/><circle cx="596.5" cy="305.1" r="4.2"/><circle cx="599.4" cy="323.1" r="4.2"/><circle cx="597.6" cy="353.9" r="4.2"/><circle cx="599.7" cy="356.4" r="4.2"/><circle cx="601.7" cy="381.8" r="4.2"/><circle cx="601.9" cy="422.6" r="4.2"/><circle cx="600.7" cy="414.7" r="4.2"/><circle cx="600.0" cy="422.9" r="4.2"/><circle cx="601.5" cy="435.8" r="4.2"/><circle cx="604.1" cy="452.6" r="4.2"/><circle cx="603.0" cy="464.3" r="4.2"/><circle cx="607.0" cy="470.0" r="4.2"/><circle cx="607.8" cy="488.8" r="4.2"/><circle cx="607.9" cy="498.0" r="4.2"/><circle cx="607.1" cy="500.1" r="4.2"/><circle cx="604.2" cy="518.2" r="4.2"/><circle cx="610.1" cy="516.8" r="4.2"/><circle cx="609.0" cy="518.4" r="4.2"/><circle cx="607.0" cy="524.5" r="4.2"/><circle cx="607.2" cy="525.0" r="4.2"/><circle cx="608.3" cy="524.9" r="4.2"/><circle cx="610.3" cy="528.3" r="4.2"/><circle cx="608.0" cy="531.1" r="4.2"/><circle cx="613.3" cy="533.0" r="4.2"/><circle cx="611.1" cy="533.0" r="4.2"/><circle cx="613.4" cy="533.0" r="4.2"/><circle cx="609.9" cy="533.0" r="4.2"/><circle cx="619.0" cy="533.0" r="4.2"/><circle cx="616.0" cy="533.0" r="4.2"/><circle cx="614.6" cy="533.0" r="4.2"/><circle cx="613.2" cy="533.0" r="4.2"/><circle cx="618.7" cy="533.0" r="4.2"/><circle cx="615.8" cy="533.0" r="4.2"/><circle cx="616.4" cy="533.0" r="4.2"/><circle cx="616.1" cy="533.0" r="4.2"/><circle cx="616.1" cy="533.0" r="4.2"/><circle cx="618.8" cy="533.0" r="4.2"/><circle cx="619.6" cy="533.0" r="4.2"/><circle cx="619.4" cy="533.0" r="4.2"/><circle cx="618.7" cy="533.0" r="4.2"/><circle cx="624.1" cy="533.0" r="4.2"/><circle cx="624.9" cy="533.0" r="4.2"/><circle cx="621.0" cy="533.0" r="4.2"/><circle cx="625.5" cy="533.0" r="4.2"/><circle cx="623.8" cy="533.0" r="4.2"/><circle cx="624.2" cy="533.0" r="4.2"/><circle cx="628.6" cy="533.0" r="4.2"/><circle cx="623.5" cy="533.0" r="4.2"/><circle cx="627.5" cy="533.0" r="4.2"/><circle cx="626.5" cy="533.0" r="4.2"/><circle cx="627.4" cy="533.0" r="4.2"/><circle cx="625.6" cy="533.0" r="4.2"/><circle cx="627.7" cy="533.0" r="4.2"/><circle cx="631.5" cy="533.0" r="4.2"/><circle cx="629.8" cy="533.0" r="4.2"/><circle cx="631.6" cy="533.0" r="4.2"/><circle cx="632.4" cy="533.0" r="4.2"/><circle cx="630.0" cy="533.0" r="4.2"/><circle cx="631.9" cy="533.0" r="4.2"/><circle cx="632.5" cy="533.0" r="4.2"/><circle cx="632.6" cy="533.0" r="4.2"/></g>
<g fill="none" stroke="#0000ff" stroke-width="1.5"><rect x="775.4" y="523.4" width="6.8" height="6.8"/><rect x="779.0" y="522.0" width="6.8" height="6.8"/><rect x="782.5" y="517.9" width="6.8" height="6.8"/><rect x="785.4" y="512.6" width="6.8" height="6.8"/><rect x="788.4" y="508.2" width="6.8" height="6.8"/><rect x="792.7" y="496.2" width="6.8" height="6.8"/><rect x="795.2" y="483.6" width="6.8" height="6.8"/><rect x="799.2" y="468.8" width="6.8" height="6.8"/><rect x="801.6" y="444.6" width="6.8" height="6.8"/><rect x="804.7" y="426.1" width="6.8" height="6.8"/><rect x="808.2" y="404.3" width="6.8" height="6.8"/><rect x="811.4" y="386.2" width="6.8" height="6.8"/><rect x="815.4" y="366.6" width="6.8" height="6.8"/><rect x="818.6" y="348.8" width="6.8" height="6.8"/><rect x="822.0" y="347.8" width="6.8" height="6.8"/><rect x="825.1" y="337.4" width="6.8" height="6.8"/><rect x="828.5" y="341.1" width="6.8" height="6.8"/><rect x="831.3" y="358.2" width="6.8" height="6.8"/><rect x="835.6" y="370.9" width="6.8" height="6.8"/><rect x="838.4" y="390.1" width="6.8" height="6.8"/><rect x="841.2" y="410.6" width="6.8" height="6.8"/><rect x="846.0" y="433.9" width="6.8" height="6.8"/><rect x="847.9" y="454.7" width="6.8" height="6.8"/><rect x="851.4" y="472.4" width="6.8" height="6.8"/><rect x="854.9" y="489.4" width="6.8" height="6.8"/><rect x="858.2" y="502.9" width="6.8" height="6.8"/><rect x="861.5" y="510.6" width="6.8" height="6.8"/><rect x="864.0" y="516.0" width="6.8" height="6.8"/><rect x="868.0" y="519.8" width="6.8" height="6.8"/><rect x="870.2" y="522.7" width="6.8" height="6.8"/><rect x="874.4" y="525.0" width="6.8" height="6.8"/><rect x="877.8" y="525.6" width="6.8" height="6.8"/><rect x="881.4" y="526.3" width="6.8" height="6.8"/><rect x="884.0" y="526.4" width="6.8" height="6.8"/><rect x="887.9" y="527.0" width="6.8" height="6.8"/></g>
<path d="M540.0 535.0 L540.5 535.0 L541.0 535.0 L541.5 535.0 L542.0 535.0 L542.5 535.0 L543.0 535.0 L543.5 535.0 L544.0 535.0 L544.5 535.0 L545.0 535.0 L545.5 535.0 L546.0 535.0 L546.5 535.0 L547.0 535.0 L547.5 535.0 L548.0 535.0 L548.5 535.0 L549.0 535.0 L549.5 535.0 L550.0 535.0 L550.5 534.8 L551.0 534.3 L551.5 533.9 L552.0 533.3 L552.5 532.8 L553.0 532.2 L553.5 531.5 L554.0 530.8 L554.5 530.0 L555.0 529.1 L555.5 528.2 L556.0 527.2 L556.5 526.2 L557.0 525.0 L557.5 523.8 L558.0 522.5 L558.5 521.1 L559.0 519.6 L559.5 518.0 L560.0 516.3 L560.5 514.5 L561.0 512.6 L561.5 510.6 L562.0 508.4 L562.5 506.1 L563.0 503.7 L563.5 501.2 L564.0 498.5 L564.5 495.7 L565.0 492.8 L565.5 489.7 L566.0 486.5 L566.5 483.1 L567.0 479.6 L567.5 476.0 L568.0 472.2 L568.5 468.2 L569.0 464.2 L569.5 459.9 L570.0 455.6 L570.5 451.1 L571.0 446.5 L571.5 441.7 L572.0 436.8 L572.5 431.9 L573.0 426.8 L573.5 421.6 L574.0 416.3 L574.5 410.9 L575.0 405.5 L575.5 400.0 L576.0 394.4 L576.5 388.8 L577.0 383.2 L577.5 377.6 L578.0 371.9 L578.5 366.3 L579.0 360.7 L579.5 355.1 L580.0 349.6 L580.5 344.2 L581.0 338.8 L581.5 333.6 L582.0 328.4 L582.5 323.4 L583.0 318.5 L583.5 313.8 L584.0 309.3 L584.5 305.0 L585.0 300.9 L585.5 297.0 L586.0 293.3 L586.5 289.9 L587.0 286.7 L587.5 283.8 L588.0 281.1 L588.5 278.8 L589.0 276.8 L589.5 275.0 L590.0 273.6 L590.5 272.5 L591.0 271.6 L591.5 271.2 L592.0 271.0 L592.5 271.2 L593.0 271.6 L593.5 272.4 L594.0 273.4 L594.5 274.7 L595.0 276.4 L595.5 278.3 L596.0 280.5 L596.5 282.9 L597.0 285.7 L597.5 288.7 L598.0 291.9 L598.5 295.3 L599.0 299.0 L599.5 302.9 L600.0 307.0 L600.5 311.2 L601.0 315.7 L601.5 320.3 L602.0 325.0 L602.5 329.9 L603.0 334.9 L603.5 340.0 L604.0 345.2 L604.5 350.5 L605.0 355.8 L605.5 361.2 L606.0 366.6 L606.5 372.1 L607.0 377.5 L607.5 383.0 L608.0 388.4 L608.5 393.8 L609.0 399.2 L609.5 404.5 L610.0 409.8 L610.5 415.0 L611.0 420.1 L611.5 425.2 L612.0 430.1 L612.5 435.0 L613.0 439.7 L613.5 444.4 L614.0 448.9 L614.5 453.3 L615.0 457.6 L615.5 461.7 L616.0 465.8 L616.5 469.7 L617.0 473.4 L617.5 477.0 L618.0 480.5 L618.5 483.9 L619.0 487.1 L619.5 490.2 L620.0 493.2 L620.5 496.0 L621.0 498.7 L621.5 501.2 L622.0 503.7 L622.5 506.0 L623.0 508.2 L623.5 510.3 L624.0 512.3 L624.5 514.2 L625.0 515.9 L625.5 517.6 L626.0 519.2 L626.5 520.6 L627.0 522.0 L627.5 523.3 L628.0 524.5 L628.5 525.7 L629.0 526.7 L629.5 527.7 L630.0 528.6 L630.5 529.5 L631.0 530.3 L631.5 531.0 L632.0 531.7 L632.5 532.3 L633.0 532.9 L633.5 533.5 L634.0 534.0 L634.5 534.4 L635.0 534.8 L635.5 535.0 L636.0 535.0 L636.5 535.0 L637.0 535.0 L637.5 535.0 L638.0 535.0 L638.5 535.0 L639.0 535.0 L639.5 535.0 L640.0 535.0" fill="none" stroke="#000000" stroke-width="2.8"/>
<path d="M540.0 532.4 L540.5 531.9 L541.0 531.3 L541.5 530.7 L542.0 530.0 L542.5 529.2 L543.0 528.4 L543.5 527.5 L544.0 526.4 L544.5 525.3 L545.0 524.1 L545.5 522.8 L546.0 521.3 L546.5 519.8 L547.0 518.1 L547.5 516.2 L548.0 514.2 L548.5 512.0 L549.0 509.6 L549.5 507.1 L550.0 504.3 L550.5 501.4 L551.0 498.2 L551.5 494.8 L552.0 491.2 L552.5 487.3 L553.0 483.2 L553.5 478.8 L554.0 474.1 L554.5 469.1 L555.0 463.9 L555.5 458.3 L556.0 452.5 L556.5 446.3 L557.0 439.8 L557.5 433.0 L558.0 425.9 L558.5 418.5 L559.0 410.7 L559.5 402.6 L560.0 394.2 L560.5 385.5 L561.0 376.5 L561.5 367.1 L562.0 357.5 L562.5 347.6 L563.0 337.4 L563.5 327.0 L564.0 316.4 L564.5 305.5 L565.0 294.4 L565.5 283.2 L566.0 271.8 L566.5 260.3 L567.0 248.7 L567.5 237.0 L568.0 225.3 L568.5 213.7 L569.0 202.0 L569.5 190.4 L570.0 178.9 L570.5 167.6 L571.0 156.4 L571.5 145.5 L572.0 134.8 L572.5 124.4 L573.0 114.3 L573.5 104.6 L574.0 95.2 L574.5 86.4 L575.0 77.9 L575.5 70.0 L576.0 62.7 L576.5 55.8 L577.0 49.6 L577.5 44.0 L578.0 39.1 L578.5 34.7 L579.0 31.1 L579.5 28.2 L580.0 25.9 L580.5 24.4 L581.0 23.6 L581.5 23.6 L582.0 24.2 L582.5 25.6 L583.0 27.7 L583.5 30.5 L584.0 34.0 L584.5 38.1 L585.0 43.0 L585.5 48.5 L586.0 54.6 L586.5 61.2 L587.0 68.5 L587.5 76.3 L588.0 84.6 L588.5 93.4 L589.0 102.7 L589.5 112.3 L590.0 122.3 L590.5 132.7 L591.0 143.3 L591.5 154.2 L592.0 165.3 L592.5 176.6 L593.0 188.1 L593.5 199.7 L594.0 211.3 L594.5 223.0 L595.0 234.7 L595.5 246.4 L596.0 258.0 L596.5 269.5 L597.0 280.9 L597.5 292.2 L598.0 303.3 L598.5 314.2 L599.0 324.9 L599.5 335.4 L600.0 345.6 L600.5 355.5 L601.0 365.2 L601.5 374.6 L602.0 383.7 L602.5 392.5 L603.0 401.0 L603.5 409.1 L604.0 416.9 L604.5 424.5 L605.0 431.6 L605.5 438.5 L606.0 445.1 L606.5 451.3 L607.0 457.2 L607.5 462.8 L608.0 468.1 L608.5 473.1 L609.0 477.9 L609.5 482.3 L610.0 486.5 L610.5 490.4 L611.0 494.1 L611.5 497.5 L612.0 500.8 L612.5 503.8 L613.0 506.5 L613.5 509.1 L614.0 511.5 L614.5 513.7 L615.0 515.8 L615.5 517.7 L616.0 519.4 L616.5 521.0 L617.0 522.5 L617.5 523.9 L618.0 525.1 L618.5 526.2 L619.0 527.3 L619.5 528.2 L620.0 529.1 L620.5 529.8 L621.0 530.5 L621.5 531.2 L622.0 531.8 L622.5 532.3 L623.0 532.7 L623.5 533.2 L624.0 533.5 L624.5 533.9 L625.0 534.2 L625.5 534.4 L626.0 534.7 L626.5 534.9 L627.0 535.0 L627.5 535.0 L628.0 535.0 L628.5 535.0 L629.0 535.0 L629.5 535.0 L630.0 535.0 L630.5 535.0 L631.0 535.0 L631.5 535.0 L632.0 535.0 L632.5 535.0 L633.0 535.0 L633.5 535.0 L634.0 535.0" fill="none" stroke="#ff0000" stroke-width="2.8"/>
<path d="M779.0 529.3 L779.5 529.2 L780.0 529.0 L780.5 528.8 L781.0 528.6 L781.5 528.4 L782.0 528.1 L782.5 527.8 L783.0 527.6 L783.5 527.2 L784.0 526.9 L784.5 526.6 L785.0 526.2 L785.5 525.7 L786.0 525.3 L786.5 524.8 L787.0 524.3 L787.5 523.7 L788.0 523.1 L788.5 522.5 L789.0 521.8 L789.5 521.1 L790.0 520.3 L790.5 519.5 L791.0 518.6 L791.5 517.7 L792.0 516.7 L792.5 515.7 L793.0 514.6 L793.5 513.4 L794.0 512.2 L794.5 510.9 L795.0 509.5 L795.5 508.1 L796.0 506.6 L796.5 505.0 L797.0 503.3 L797.5 501.6 L798.0 499.8 L798.5 497.9 L799.0 495.9 L799.5 493.9 L800.0 491.8 L800.5 489.5 L801.0 487.2 L801.5 484.9 L802.0 482.4 L802.5 479.8 L803.0 477.2 L803.5 474.5 L804.0 471.7 L804.5 468.9 L805.0 466.0 L805.5 462.9 L806.0 459.9 L806.5 456.7 L807.0 453.5 L807.5 450.3 L808.0 447.0 L808.5 443.6 L809.0 440.2 L809.5 436.8 L810.0 433.3 L810.5 429.8 L811.0 426.2 L811.5 422.7 L812.0 419.1 L812.5 415.6 L813.0 412.0 L813.5 408.5 L814.0 405.0 L814.5 401.5 L815.0 398.0 L815.5 394.6 L816.0 391.2 L816.5 387.9 L817.0 384.7 L817.5 381.5 L818.0 378.4 L818.5 375.4 L819.0 372.5 L819.5 369.7 L820.0 367.0 L820.5 364.4 L821.0 362.0 L821.5 359.7 L822.0 357.5 L822.5 355.5 L823.0 353.7 L823.5 351.9 L824.0 350.4 L824.5 349.0 L825.0 347.8 L825.5 346.8 L826.0 345.9 L826.5 345.2 L827.0 344.7 L827.5 344.4 L828.0 344.3 L828.5 344.4 L829.0 344.6 L829.5 345.0 L830.0 345.6 L830.5 346.4 L831.0 347.4 L831.5 348.5 L832.0 349.8 L832.5 351.3 L833.0 353.0 L833.5 354.8 L834.0 356.7 L834.5 358.8 L835.0 361.1 L835.5 363.5 L836.0 366.0 L836.5 368.6 L837.0 371.4 L837.5 374.2 L838.0 377.2 L838.5 380.2 L839.0 383.4 L839.5 386.6 L840.0 389.9 L840.5 393.2 L841.0 396.6 L841.5 400.1 L842.0 403.6 L842.5 407.1 L843.0 410.6 L843.5 414.2 L844.0 417.7 L844.5 421.3 L845.0 424.8 L845.5 428.4 L846.0 431.9 L846.5 435.4 L847.0 438.8 L847.5 442.3 L848.0 445.6 L848.5 449.0 L849.0 452.2 L849.5 455.5 L850.0 458.6 L850.5 461.7 L851.0 464.8 L851.5 467.7 L852.0 470.6 L852.5 473.4 L853.0 476.2 L853.5 478.8 L854.0 481.4 L854.5 483.9 L855.0 486.3 L855.5 488.6 L856.0 490.9 L856.5 493.0 L857.0 495.1 L857.5 497.1 L858.0 499.1 L858.5 500.9 L859.0 502.7 L859.5 504.4 L860.0 506.0 L860.5 507.5 L861.0 509.0 L861.5 510.4 L862.0 511.7 L862.5 512.9 L863.0 514.1 L863.5 515.2 L864.0 516.3 L864.5 517.3 L865.0 518.3 L865.5 519.2 L866.0 520.0 L866.5 520.8 L867.0 521.5 L867.5 522.2 L868.0 522.9 L868.5 523.5 L869.0 524.1 L869.5 524.6 L870.0 525.1 L870.5 525.6 L871.0 526.0 L871.5 526.4 L872.0 526.8 L872.5 527.1 L873.0 527.4 L873.5 527.7 L874.0 528.0 L874.5 528.3 L875.0 528.5 L875.5 528.7 L876.0 528.9 L876.5 529.1 L877.0 529.3 L877.5 529.4 L878.0 529.5 L878.5 529.7 L879.0 529.8 L879.5 529.9 L880.0 530.0 L880.5 530.1 L881.0 530.2 L881.5 530.2 L882.0 530.3 L882.5 530.4 L883.0 530.4 L883.5 530.5 L884.0 530.5 L884.5 530.6 L885.0 530.6 L885.5 530.6 L886.0 530.7 L886.5 530.7 L887.0 530.7 L887.5 530.7 L888.0 530.7 L888.5 530.8 L889.0 530.8 L889.5 530.8 L890.0 530.8 L890.5 530.8 L891.0 530.8 L891.5 530.8 L892.0 530.8 L892.5 530.8 L893.0 530.9 L893.5 530.9 L894.0 530.9 L894.5 530.9 L895.0 530.9 L895.5 530.9 L896.0 530.9 L896.5 530.9 L897.0 530.9" fill="none" stroke="#0000ff" stroke-width="2.8"/>
<g stroke="#222" stroke-width="1.2" fill="none"><path d="M97.7 273.9L121.6 294.9"/><path d="M142.2 151.3L167.5 182"/><path d="M203.3 65L226.8 79.5"/><path d="M616 76L588.7 83"/><path d="M639.2 389.3L620 408"/><path d="M865.2 400.2L845.2 423.6"/></g>
<g stroke-width="4.3"><path d="M313.2 38.4H368.1" stroke="#ff0000"/><path d="M313.2 64.4H368.1" stroke="#000000"/><path d="M314.3 91.3H369.5" stroke="#0000ff"/><path d="M776.6 35H832.2" stroke="#ff0000"/><path d="M776.6 61.3H832.2" stroke="#000000"/><path d="M777.9 88H833.2" stroke="#0000ff"/></g>
<g stroke="#000"><path transform="translate(379.43 45.40) scale(0.03306 -0.02722)" d="M347 0V709H289C258 600 238 585 102 568V505H259V0Z"/><path transform="translate(843.43 42.00) scale(0.03306 -0.02666)" d="M347 0V709H289C258 600 238 585 102 568V505H259V0Z"/><path transform="translate(79.44 273.90) scale(0.03878 -0.02835)" d="M347 0V709H289C258 600 238 585 102 568V505H259V0Z"/><path transform="translate(618.29 81.50) scale(0.03633 -0.02920)" d="M347 0V709H289C258 600 238 585 102 568V505H259V0Z"/><path transform="translate(466.72 367.80) scale(0.03510 -0.02863)" d="M347 0V709H289C258 600 238 585 102 568V505H259V0Z"/><path transform="translate(825.68 563.20) scale(0.03551 -0.02891)" d="M347 0V709H289C258 600 238 585 102 568V505H259V0Z"/><text transform="translate(16.45 31.04) scale(1.100 1)" font-family="Liberation Serif" font-size="33.50" font-style="italic" stroke-width="0">N</text><text transform="translate(491.20 28.59) scale(1.100 1)" font-family="Liberation Serif" font-size="33.50" font-style="italic" stroke-width="0">N</text><text transform="translate(7.07 123.80) scale(1.050 1)" font-family="Liberation Sans" font-size="29.00" stroke-width="0.35">800</text><text transform="translate(7.57 230.85) scale(1.050 1)" font-family="Liberation Sans" font-size="29.00" stroke-width="0.35">600</text><text transform="translate(6.68 336.36) scale(1.050 1)" font-family="Liberation Sans" font-size="29.00" stroke-width="0.35">400</text><text transform="translate(7.37 443.56) scale(1.050 1)" font-family="Liberation Sans" font-size="29.00" stroke-width="0.35">200</text><text transform="translate(40.64 566.05) scale(1.050 1)" font-family="Liberation Sans" font-size="29.00" stroke-width="0.35">0.0</text><text transform="translate(167.39 565.91) scale(1.050 1)" font-family="Liberation Sans" font-size="29.00" stroke-width="0.35">0.2</text><text transform="translate(293.94 566.05) scale(1.050 1)" font-family="Liberation Sans" font-size="29.00" stroke-width="0.35">0.4</text><text transform="translate(465.75 190.90) scale(1.050 1)" font-family="Liberation Sans" font-size="29.00" stroke-width="0.35">2000</text><text transform="translate(484.62 367.75) scale(1.050 1)" font-family="Liberation Sans" font-size="29.00" stroke-width="0.35">000</text><text transform="translate(521.89 563.11) scale(1.050 1)" font-family="Liberation Sans" font-size="29.00" stroke-width="0.35">0.0</text><text transform="translate(597.84 563.11) scale(1.050 1)" font-family="Liberation Sans" font-size="29.00" stroke-width="0.35">0.3</text><text transform="translate(674.14 563.11) scale(1.050 1)" font-family="Liberation Sans" font-size="29.00" stroke-width="0.35">0.6</text><text transform="translate(750.49 563.25) scale(1.050 1)" font-family="Liberation Sans" font-size="29.00" stroke-width="0.35">0.9</text><text transform="translate(843.45 563.10) scale(1.050 1)" font-family="Liberation Sans" font-size="29.00" stroke-width="0.35">.2</text><text transform="translate(195.65 616.38) scale(1.055 1)" font-family="Liberation Serif" font-size="39.70" stroke-width="0">(a)</text><text transform="translate(711.16 616.48) scale(1.055 1)" font-family="Liberation Serif" font-size="39.70" stroke-width="0">(b)</text><text transform="translate(379.54 73.60) scale(1.060 1)" font-family="Liberation Sans" font-size="27.00" stroke-width="0.35">2</text><text transform="translate(379.48 99.56) scale(1.060 1)" font-family="Liberation Sans" font-size="27.00" stroke-width="0.35">3</text><text transform="translate(843.54 70.25) scale(1.060 1)" font-family="Liberation Sans" font-size="27.00" stroke-width="0.35">2</text><text transform="translate(843.33 97.27) scale(1.060 1)" font-family="Liberation Sans" font-size="27.00" stroke-width="0.35">3</text><text transform="translate(134.99 144.37) scale(1.090 1)" font-family="Liberation Sans" font-size="29.20" stroke-width="0.35">2</text><text transform="translate(178.80 70.67) scale(1.090 1)" font-family="Liberation Sans" font-size="29.20" stroke-width="0.35">3</text><text transform="translate(629.94 384.37) scale(1.090 1)" font-family="Liberation Sans" font-size="29.20" stroke-width="0.35">2</text><text transform="translate(868.90 407.62) scale(1.090 1)" font-family="Liberation Sans" font-size="29.20" stroke-width="0.35">3</text><text transform="translate(365.17 569.48) scale(1.150 1)" font-family="Liberation Serif" font-size="31.40" font-style="italic" stroke-width="0">h</text><text transform="translate(885.62 568.03) scale(1.150 1)" font-family="Liberation Serif" font-size="31.40" font-style="italic" stroke-width="0">h</text><text transform="translate(420.69 569.53) scale(1.130 1)" font-family="Liberation Serif" font-size="31.00" font-style="italic" stroke-width="0">m</text><text transform="translate(941.04 567.99) scale(1.130 1)" font-family="Liberation Serif" font-size="31.00" font-style="italic" stroke-width="0">m</text><text transform="translate(400.96 569.08) scale(1.150 1)" font-family="Liberation Serif" font-size="31.00" stroke-width="0">μ</text><text transform="translate(921.66 567.92) scale(1.150 1)" font-family="Liberation Serif" font-size="31.00" stroke-width="0">μ</text><text transform="translate(384.58 569.53) scale(1.100 1)" font-family="Liberation Serif" font-size="27.00" stroke-width="0">,</text><text transform="translate(904.48 567.62) scale(1.100 1)" font-family="Liberation Serif" font-size="27.00" stroke-width="0">,</text></g>
</svg></body></html>
